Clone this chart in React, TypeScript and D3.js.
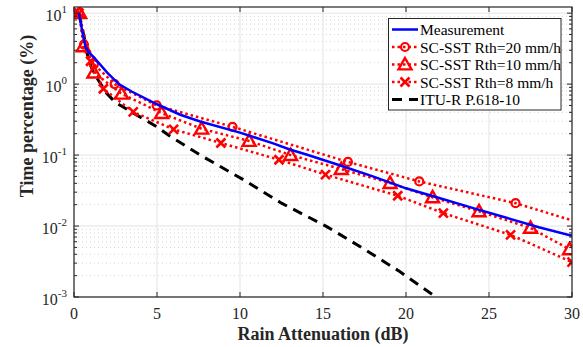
import React, { useEffect, useRef } from 'react';
import * as d3 from 'd3';

// rain attenuation (dB) vs time percentage (%)
const measAtt = [0.3, 0.5, 0.7, 0.9, 1.14, 1.5, 2, 2.7, 3.5, 5, 6.4, 7.6, 10, 12, 13, 14, 16, 18, 20, 22, 24, 26, 28, 30];
const measPct = [10, 5.5, 3.3, 2.8, 2.45, 1.98, 1.45, 1.0, 0.78, 0.52, 0.37, 0.297, 0.207, 0.146, 0.12, 0.102, 0.072, 0.05, 0.034, 0.0248, 0.018, 0.0132, 0.0096, 0.0073];

const rth20Att = [0.3, 0.6, 1.2, 2.45, 4.98, 9.55, 16.5, 20.8, 26.6, 31];
const rth20Pct = [10, 3.6, 1.9, 1.0, 0.5, 0.25, 0.08, 0.0425, 0.021, 0.0102];

const rth10Att = [0.34, 0.56, 1.2, 2.87, 5.28, 7.69, 10.55, 13.05, 16.1, 19.04, 21.6, 24.4, 27.5, 29.85];
const rth10Pct = [10, 3.4, 1.45, 0.73, 0.39, 0.235, 0.158, 0.1, 0.0635, 0.0403, 0.0253, 0.0161, 0.0094, 0.0047];

const rth8Att = [0.3, 1.0, 1.77, 3.57, 6.0, 8.85, 12.35, 15.15, 19.5, 22.25, 26.3, 30];
const rth8Pct = [10, 2.1, 0.86, 0.405, 0.23, 0.148, 0.086, 0.053, 0.0267, 0.0152, 0.0075, 0.0031];

const ituAtt = [0.3, 0.5, 0.65, 0.85, 1.1, 1.45, 1.95, 2.5, 3.5, 5, 5.7, 7.6, 10.2, 12.5, 15.2, 17.5, 19.6, 21.8];
const ituPct = [10, 6, 4.2, 2.3, 1.6, 1.15, 0.75, 0.55, 0.4, 0.25, 0.19, 0.1, 0.045, 0.021, 0.0099, 0.0047, 0.0023, 0.001];

const xTicks = [0, 5, 10, 15, 20, 25, 30];
const yExps = [-3, -2, -1, 0, 1];
const legendLabels = ['Measurement', 'SC-SST Rth=20 mm/h', 'SC-SST Rth=10 mm/h', 'SC-SST Rth=8 mm/h', 'ITU-R P.618-10'];

const WIDTH = 583;
const HEIGHT = 347;
const FONT = '"Liberation Serif", "Times New Roman", serif';

type Marker = 'none' | 'circle' | 'triangle' | 'cross';

const App: React.FC = () => {
  const svgRef = useRef<SVGSVGElement>(null);

  useEffect(() => {
    if (!svgRef.current) return;
    const svg = d3.select(svgRef.current);
    svg.selectAll('*').remove();

    const left = 74, right = 572, top = 7, bottom = 297;
    const x = d3.scaleLinear().domain([0, 30]).range([left, right]);
    const y = d3.scaleLog().domain([1e-3, 12.2]).range([bottom, top]);

    svg.append('rect').attr('width', WIDTH).attr('height', HEIGHT).attr('fill', '#fff');

    svg.append('defs').append('clipPath').attr('id', 'plotclip')
      .append('rect').attr('x', left).attr('y', top).attr('width', right - left).attr('height', bottom - top);

    // minor grid
    const minor: number[] = [];
    for (let e = -3; e <= 0; e++) for (let k = 2; k <= 9; k++) minor.push(k * Math.pow(10, e));
    svg.append('g').selectAll('line').data(minor).enter().append('line')
      .attr('x1', left).attr('x2', right)
      .attr('y1', (d) => y(d)).attr('y2', (d) => y(d))
      .attr('stroke', '#d6d6d6').attr('stroke-width', 1).attr('stroke-dasharray', '1,3');

    // major grid
    svg.append('g').selectAll('line').data(yExps).enter().append('line')
      .attr('x1', left).attr('x2', right)
      .attr('y1', (d) => y(Math.pow(10, d))).attr('y2', (d) => y(Math.pow(10, d)))
      .attr('stroke', '#e3e3e3').attr('stroke-width', 1);
    svg.append('g').selectAll('line').data(xTicks).enter().append('line')
      .attr('x1', (d) => x(d)).attr('x2', (d) => x(d))
      .attr('y1', top).attr('y2', bottom)
      .attr('stroke', '#e3e3e3').attr('stroke-width', 1);

    const plot = svg.append('g').attr('clip-path', 'url(#plotclip)');

    const drawMarker = (g: d3.Selection<SVGGElement, unknown, null, undefined>, m: Marker, cx: number, cy: number) => {
      if (m === 'circle') {
        g.append('circle').attr('cx', cx).attr('cy', cy).attr('r', 4)
          .attr('fill', 'none').attr('stroke', '#ff0000').attr('stroke-width', 2.2);
      } else if (m === 'triangle') {
        const s = 6.5;
        g.append('path').attr('d', `M${cx},${cy - s}L${cx + s},${cy + s * 0.75}L${cx - s},${cy + s * 0.75}Z`)
          .attr('fill', 'none').attr('stroke', '#ff0000').attr('stroke-width', 2.4).attr('stroke-linejoin', 'miter');
      } else if (m === 'cross') {
        const s = 4.5;
        g.append('path').attr('d', `M${cx - s},${cy - s}L${cx + s},${cy + s}M${cx - s},${cy + s}L${cx + s},${cy - s}`)
          .attr('stroke', '#ff0000').attr('stroke-width', 2.6);
      }
    };

    const drawSeries = (att: number[], pct: number[], color: string, width: number, dash: string | null, marker: Marker) => {
      const pts = att.map((a, i) => [a, pct[i]] as [number, number]);
      const line = d3.line<[number, number]>().x((d) => x(d[0])).y((d) => y(d[1]));
      const p = plot.append('path').attr('d', line(pts) || '')
        .attr('fill', 'none').attr('stroke', color).attr('stroke-width', width);
      if (dash) p.attr('stroke-dasharray', dash);
      if (marker !== 'none') {
        pts.forEach((d) => drawMarker(plot, marker, x(d[0]), y(d[1])));
      }
    };

    drawSeries(ituAtt, ituPct, '#000', 3, '10,7', 'none');
    drawSeries(rth8Att, rth8Pct, '#ff0000', 2.5, '2.5,3', 'cross');
    drawSeries(rth10Att, rth10Pct, '#ff0000', 2.5, '2.5,3', 'triangle');
    drawSeries(rth20Att, rth20Pct, '#ff0000', 2.5, '2.5,3', 'circle');
    drawSeries(measAtt, measPct, '#0000ff', 2.5, null, 'none');

    // box + ticks
    const axisColor = '#262626';
    svg.append('rect').attr('x', left).attr('y', top).attr('width', right - left).attr('height', bottom - top)
      .attr('fill', 'none').attr('stroke', axisColor).attr('stroke-width', 1.2);

    const tg = svg.append('g').attr('stroke', axisColor).attr('stroke-width', 1);
    xTicks.forEach((t) => {
      tg.append('line').attr('x1', x(t)).attr('x2', x(t)).attr('y1', bottom).attr('y2', bottom - 5);
      tg.append('line').attr('x1', x(t)).attr('x2', x(t)).attr('y1', top).attr('y2', top + 5);
    });
    yExps.forEach((e) => {
      const v = y(Math.pow(10, e));
      tg.append('line').attr('x1', left).attr('x2', left + 5).attr('y1', v).attr('y2', v);
      tg.append('line').attr('x1', right).attr('x2', right - 5).attr('y1', v).attr('y2', v);
    });
    minor.forEach((m) => {
      const v = y(m);
      tg.append('line').attr('x1', left).attr('x2', left + 3).attr('y1', v).attr('y2', v);
      tg.append('line').attr('x1', right).attr('x2', right - 3).attr('y1', v).attr('y2', v);
    });

    // tick labels
    xTicks.forEach((t) => {
      svg.append('text').attr('x', x(t)).attr('y', 319).attr('text-anchor', 'middle')
        .attr('font-family', FONT).attr('font-size', 16).attr('fill', axisColor).text(String(t));
    });
    yExps.forEach((e) => {
      const txt = svg.append('text').attr('x', 67).attr('y', y(Math.pow(10, e)) + 8).attr('text-anchor', 'end')
        .attr('font-family', FONT).attr('font-size', 16).attr('fill', axisColor);
      txt.append('tspan').text('10');
      txt.append('tspan').attr('dy', -8).attr('font-size', 11).text(String(e));
    });

    // axis labels
    svg.append('text').attr('x', (left + right) / 2).attr('y', 340).attr('text-anchor', 'middle')
      .attr('font-family', FONT).attr('font-size', 18).attr('font-weight', 'bold').attr('fill', axisColor)
      .text('Rain Attenuation (dB)');
    svg.append('text').attr('transform', 'translate(33,116) rotate(-90)').attr('text-anchor', 'middle')
      .attr('font-family', FONT).attr('font-size', 18).attr('font-weight', 'bold').attr('fill', axisColor)
      .text('Time percentage (%)');

    // legend
    const lg = svg.append('g');
    lg.append('rect').attr('x', 388.5).attr('y', 18.5).attr('width', 172.5).attr('height', 91.5)
      .attr('fill', '#fff').attr('stroke', axisColor).attr('stroke-width', 1);
    const legendStyles: { color: string; width: number; dash: string | null; marker: Marker }[] = [
      { color: '#0000ff', width: 2.5, dash: null, marker: 'none' },
      { color: '#ff0000', width: 2.5, dash: '2.5,3', marker: 'circle' },
      { color: '#ff0000', width: 2.5, dash: '2.5,3', marker: 'triangle' },
      { color: '#ff0000', width: 2.5, dash: '2.5,3', marker: 'cross' },
      { color: '#000', width: 3, dash: '10,7', marker: 'none' },
    ];
    legendLabels.forEach((label, i) => {
      const cy = 29.5 + i * 17.5;
      const st = legendStyles[i];
      const l = lg.append('line').attr('x1', 392).attr('x2', 418).attr('y1', cy).attr('y2', cy)
        .attr('stroke', st.color).attr('stroke-width', st.width);
      if (st.dash) l.attr('stroke-dasharray', st.dash);
      if (st.marker !== 'none') drawMarker(lg as any, st.marker, 405, cy);
      lg.append('text').attr('x', 420).attr('y', cy + 5.5).attr('font-family', FONT).attr('font-size', 15.5)
        .attr('fill', '#000').text(label);
    });
  }, []);

  return (
    <svg
      ref={svgRef}
      width={WIDTH}
      height={HEIGHT}
      style={{ display: 'block', position: 'absolute', left: 0, top: 0 }}
    />
  );
};

export default App;
